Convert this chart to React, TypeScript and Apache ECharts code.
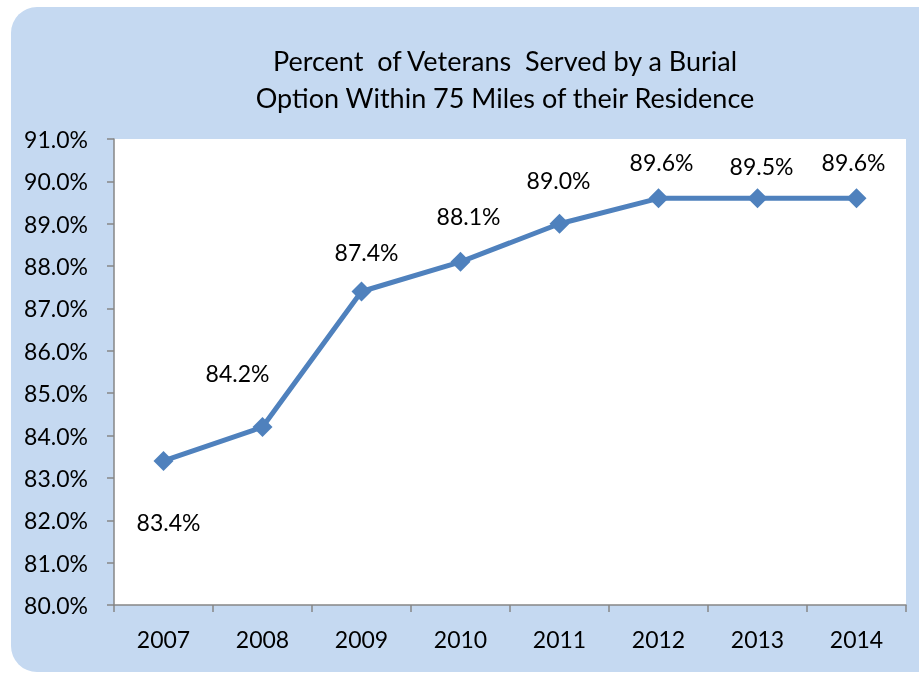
import React, { useEffect, useRef } from "react";
import * as echarts from "echarts";

const CATEGORIES = ["2007", "2008", "2009", "2010", "2011", "2012", "2013", "2014"];
const VALUES = [83.4, 84.2, 87.4, 88.1, 89.0, 89.6, 89.6, 89.6];
const LABELS = ["83.4%", "84.2%", "87.4%", "88.1%", "89.0%", "89.6%", "89.5%", "89.6%"];
const TITLE_LINES = ["Percent  of Veterans  Served by a Burial", "Option Within 75 Miles of their Residence"];
const Y_MIN = 80;
const Y_MAX = 91;
const Y_STEP = 1;

const LABEL_OFFSETS: [number, number][] = [
  [5, 61], [-25, -54], [5, -40], [8, -46], [-1, -44], [3, -36], [4, -32], [-3, -36],
];

const FONT = "Lato, 'Open Sans', sans-serif";

export default function App() {
  const ref = useRef<HTMLDivElement>(null);
  useEffect(() => {
    if (!ref.current) return;
    const chart = echarts.init(ref.current, undefined, { renderer: "svg" });
    chart.setOption({
      animation: false,
      textStyle: { fontFamily: FONT },
      graphic: [
        {
          type: "rect",
          z: -10,
          shape: { x: 11, y: 7, width: 960, height: 665, r: [26, 26, 26, 26] },
          style: { fill: "#C5D9F1" },
          silent: true,
        },
      ],
      title: {
        text: TITLE_LINES.join("\n"),
        left: 500,
        top: 37,
        textAlign: "center",
        textStyle: {
          fontFamily: FONT,
          fontSize: 27,
          fontWeight: "normal",
          lineHeight: 37,
          color: "#000",
        },
      },
      grid: {
        left: 114,
        top: 139,
        right: 13,
        bottom: 68,
        show: true,
        backgroundColor: "#FFFFFF",
        borderWidth: 0,
        containLabel: false,
      },
      xAxis: {
        type: "category",
        data: CATEGORIES,
        boundaryGap: true,
        axisLine: { show: true, lineStyle: { color: "#868686", width: 1.5 } },
        axisTick: { show: true, length: 7, alignWithLabel: false, lineStyle: { color: "#868686", width: 1.5 } },
        axisLabel: { fontFamily: FONT, fontSize: 23, color: "#000", margin: 22 },
        splitLine: { show: false },
      },
      yAxis: {
        type: "value",
        min: Y_MIN,
        max: Y_MAX,
        interval: Y_STEP,
        axisLine: { show: true, lineStyle: { color: "#868686", width: 1.5 } },
        axisTick: { show: true, length: 7, lineStyle: { color: "#868686", width: 1.5 } },
        axisLabel: {
          fontFamily: FONT,
          fontSize: 23,
          color: "#000",
          margin: 26,
          formatter: (v: number) => v.toFixed(1) + "%",
        },
        splitLine: { show: false },
      },
      series: [
        {
          type: "line",
          data: VALUES.map((v, i) => ({
            value: v,
            label: { offset: LABEL_OFFSETS[i] },
          })),
          symbol: "diamond",
          symbolSize: 20,
          lineStyle: { color: "#4F81BD", width: 5 },
          itemStyle: { color: "#4F81BD" },
          label: {
            show: true,
            position: "inside",
            fontFamily: FONT,
            fontSize: 23,
            color: "#000",
            formatter: (p: any) => LABELS[p.dataIndex],
          },
        },
      ],
    });
    return () => chart.dispose();
  }, []);
  return (
    <div
      ref={ref}
      style={{ position: "fixed", left: 0, top: 0, width: 919, height: 673 }}
    />
  );
}
